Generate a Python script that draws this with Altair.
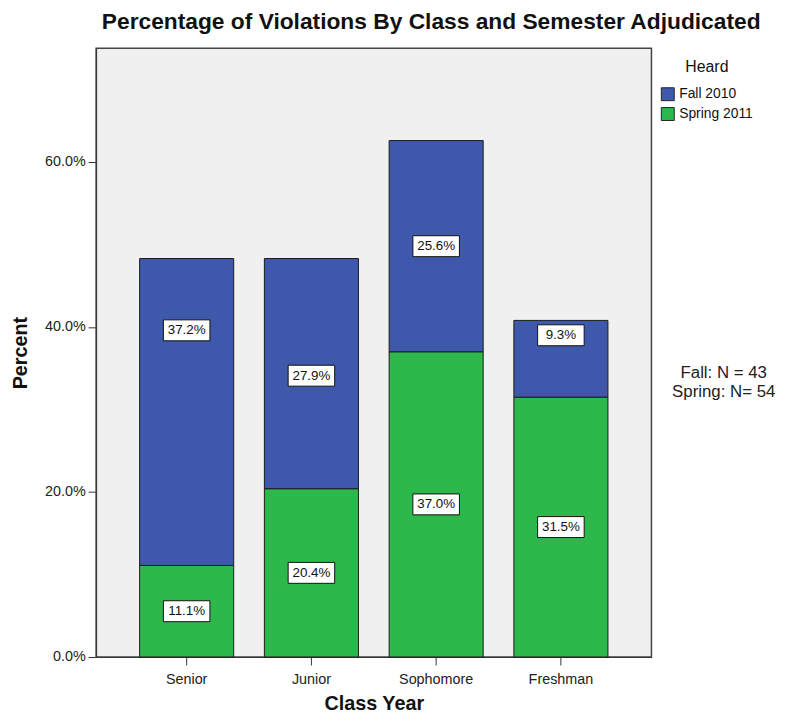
import altair as alt
import pandas as pd

classes = ["Senior", "Junior", "Sophomore", "Freshman"]
fall_2010 = [37.2, 27.9, 25.6, 9.3]
spring_2011 = [11.1, 20.4, 37.0, 31.5]
# where each Fall label sits on the percent scale
fall_label_at = [39.6, 34.1, 49.8, 39.0]
series = ["Fall 2010", "Spring 2011"]
y_ticks = [0, 20, 40, 60]
note_lines = ["Fall: N = 43", "Spring: N= 54"]

rows = []
for c, f, s, fl in zip(classes, fall_2010, spring_2011, fall_label_at):
    rows.append({"cls": c, "heard": "Spring 2011", "ord": 0, "pct": s, "lab": s / 2})
    rows.append({"cls": c, "heard": "Fall 2010", "ord": 1, "pct": f, "lab": fl})
df = pd.DataFrame(rows)

FONT = "Liberation Sans"

x_enc = alt.X("cls:N", sort=classes, title="Class Year",
              scale=alt.Scale(paddingInner=0.246, paddingOuter=0.349),
              axis=alt.Axis(labelAngle=0, labelFontSize=14.5, labelColor="#222",
                            titleFontSize=20, titleFontWeight="bold", titleColor="#111",
                            titlePadding=8, tickSize=8, tickColor="#333",
                            domainColor="#333", labelPadding=8))

base = alt.Chart(df)

bars = base.mark_bar(stroke="#1a1a1a", strokeWidth=1).encode(
    x=x_enc,
    y=alt.Y("pct:Q", stack="zero", title="Percent",
            scale=alt.Scale(domain=[0, 73.8], nice=False),
            axis=alt.Axis(values=y_ticks, grid=False,
                          labelExpr="format(datum.value, '.1f') + '%'",
                          labelFontSize=14.5, labelColor="#222",
                          titleFontSize=20, titleFontWeight="bold", titleColor="#111",
                          titlePadding=14, tickSize=8, tickColor="#333",
                          domainColor="#333", labelPadding=3)),
    color=alt.Color("heard:N", scale=alt.Scale(domain=series, range=["#3E58AC", "#2DB84B"]),
                    legend=alt.Legend(title="Heard", orient="none", legendX=570, legendY=11,
                                      titleFontSize=16, titleFontWeight="normal",
                                      titleColor="#111", titlePadding=12, titleAnchor="middle",
                                      labelFontSize=14, labelColor="#111",
                                      symbolType="square", symbolSize=170,
                                      symbolStrokeColor="#222", symbolStrokeWidth=1,
                                      rowPadding=1, labelOffset=4)),
    order=alt.Order("ord:Q"),
)

lab = base.transform_calculate(txt="format(datum.pct, '.1f') + '%'")

boxes = lab.mark_point(
    shape="M-1,-0.45L1,-0.45L1,0.45L-1,0.45Z", size=2209, filled=True,
    fill="white", stroke="#111", strokeWidth=1, opacity=1,
).encode(x=alt.X("cls:N", sort=classes), y=alt.Y("lab:Q"))

texts = lab.mark_text(fontSize=13.5, font=FONT, color="#111").encode(
    x=alt.X("cls:N", sort=classes), y=alt.Y("lab:Q"), text="txt:N")

note = alt.Chart(pd.DataFrame({"t": [note_lines]})).mark_text(
    fontSize=17, font=FONT, color="#222", align="center", lineHeight=19
).encode(x=alt.value(634), y=alt.value(328), text="t")

chart = alt.layer(bars, boxes, texts, note).properties(
    width=561, height=615,
    autosize=alt.AutoSizeParams(type="none"),
    padding={"left": 89, "top": 37, "right": 145, "bottom": 55},
    title=alt.TitleParams("Percentage of Violations By Class and Semester Adjudicated",
                          fontSize=23, fontWeight="bold", font=FONT, color="#111",
                          anchor="middle", dx=58, offset=14),
).configure(font=FONT).configure_view(
    fill="#F0F0F0", stroke="#444", strokeWidth=1.5
)

chart.save("out.html", embed_options={"renderer": "svg", "actions": False})
